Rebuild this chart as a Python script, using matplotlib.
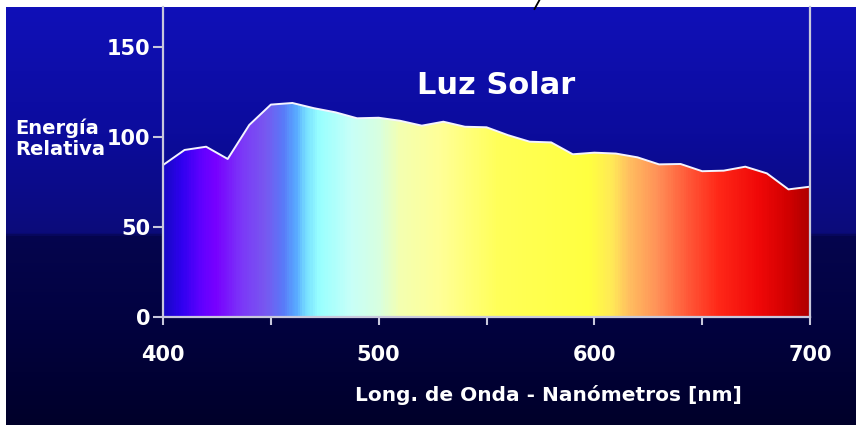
#!/usr/bin/env python3
"""
Luz Solar - relative spectral energy of sunlight (400-700 nm)
"""

import numpy as np
import matplotlib
matplotlib.use('Agg')
import matplotlib.pyplot as plt
from matplotlib.colors import LinearSegmentedColormap
from matplotlib.patches import Polygon

# Spectrum data
wavelength_nm = [400, 410, 420, 430, 440, 450, 460, 470, 480, 490,
                 500, 510, 520, 530, 540, 550, 560, 570, 580, 590,
                 600, 610, 620, 630, 640, 650, 660, 670, 680, 690, 700]
energia_relativa = [84.4, 92.8, 94.6, 87.8, 106.7, 118.0, 118.9, 116.0, 113.7, 110.4,
                    110.7, 109.0, 106.3, 108.5, 105.7, 105.4, 101.0, 97.4, 97.0, 90.4,
                    91.3, 90.8, 88.7, 84.8, 85.0, 81.0, 81.3, 83.5, 79.8, 70.9, 72.4]

x_ticks = [400, 500, 600, 700]
x_minor_ticks = [450, 550, 650]
y_ticks = [0, 50, 100, 150]

# Colour stops of the spectrum fill (wavelength, colour)
spectrum_nm = [400, 408, 417, 424, 436, 447, 455, 461, 466, 472, 487, 500,
               510, 528, 556, 598, 609, 616, 630, 644, 658, 677, 691, 700]
spectrum_col = ['#1808c8', '#3000f0', '#6000ff', '#7800ff', '#7c38f8', '#7858f0',
                '#5a78f8', '#58a8ff', '#78e0ff', '#98ffff', '#c8fff8', '#d8ffe0',
                '#f4ffb0', '#ffff98', '#ffff58', '#ffff40', '#ffe858', '#ffc060',
                '#ff9058', '#ff5838', '#ff2818', '#f00808', '#d00000', '#b00000']

# Background stops (fraction from top, colour)
bg_pos = [0.0, 0.3, 0.54, 0.548, 0.75, 1.0]
bg_col = ['#1010b8', '#0c0c9c', '#0b0b7a', '#05054e', '#020240', '#00002a']


def main():
    W, H = 856, 425
    fig = plt.figure(figsize=(W / 100, H / 100), dpi=100)
    fig.patch.set_facecolor('white')

    # gradient background
    bg = fig.add_axes([6 / W, 0, 1 - 6 / W, 1 - 7 / H])
    bg.axis('off')
    bg_cmap = LinearSegmentedColormap.from_list('bg', list(zip(bg_pos, bg_col)))
    grad = np.linspace(0, 1, 400).reshape(-1, 1)
    bg.imshow(grad, cmap=bg_cmap, aspect='auto', extent=[0, 1, 0, 1], origin='upper')
    bg.set_xlim(0, 1)
    bg.set_ylim(0, 1)

    # little stroke at the top edge
    fig.add_artist(plt.Line2D([534.5 / W, 539.5 / W], [1 - 9 / H, 1.0],
                              color='black', lw=1.3, transform=fig.transFigure))

    ax = fig.add_axes([163 / W, 1 - 317 / H, (810 - 163) / W, (317 - 7) / H])
    ax.patch.set_alpha(0)
    ymax = (317 - 7) / 1.8
    ax.set_xlim(400, 700)
    ax.set_ylim(0, ymax)

    # spectrum fill clipped by the curve
    lo, hi = spectrum_nm[0], spectrum_nm[-1]
    stops = [(v - lo) / (hi - lo) for v in spectrum_nm]
    spec_cmap = LinearSegmentedColormap.from_list('spec', list(zip(stops, spectrum_col)))
    row = np.linspace(0, 1, 600).reshape(1, -1)
    im = ax.imshow(np.vstack([row, row]), cmap=spec_cmap, aspect='auto',
                   extent=[400, 700, 0, ymax], origin='lower', zorder=1)
    verts = [(wavelength_nm[0], 0)] + list(zip(wavelength_nm, energia_relativa)) + [(wavelength_nm[-1], 0)]
    poly = Polygon(verts, closed=True, facecolor='none', edgecolor='none', transform=ax.transData)
    ax.add_patch(poly)
    im.set_clip_path(poly)

    ax.plot(wavelength_nm, energia_relativa, color='#f4f4ff', lw=1.4, zorder=3)

    spine_col = '#c8c8dc'
    for side in ['left', 'right', 'bottom']:
        ax.spines[side].set_color(spine_col)
        ax.spines[side].set_linewidth(1.6)
        ax.spines[side].set_zorder(4)
    ax.spines['top'].set_visible(False)

    ax.set_xticks(x_ticks)
    ax.set_xticks(x_minor_ticks, minor=True)
    ax.set_yticks(y_ticks)
    ax.tick_params(axis='both', which='both', direction='out', color=spine_col, width=1.5)
    ax.tick_params(axis='x', which='major', length=6, pad=14)
    ax.tick_params(axis='x', which='minor', length=6)
    ax.tick_params(axis='y', length=7, pad=2)
    for lab in ax.get_xticklabels() + ax.get_yticklabels():
        lab.set_color('white')
        lab.set_fontsize(15)
        lab.set_fontweight('bold')

    fig.text(496 / W, 1 - 86 / H, 'Luz Solar', color='white', fontsize=22,
             fontweight='bold', ha='center', va='center')
    fig.text(15 / W, 1 - 139 / H, 'Energía\nRelativa', color='white', fontsize=14,
             fontweight='bold', ha='left', va='center', linespacing=1.15)
    fig.text(548 / W, 1 - 395 / H, 'Long. de Onda - Nanómetros [nm]', color='white',
             fontsize=14.5, fontweight='bold', ha='center', va='center')

    fig.savefig('out.png', dpi=100)
    plt.close(fig)


if __name__ == "__main__":
    main()
